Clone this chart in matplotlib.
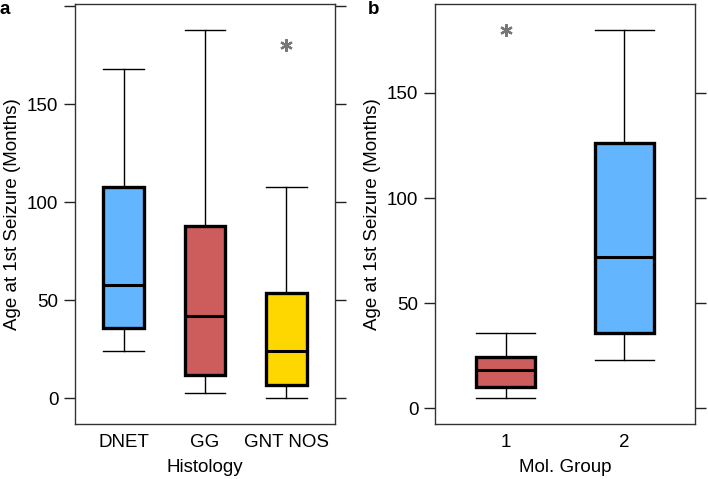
import matplotlib
matplotlib.use("Agg")
import matplotlib.pyplot as plt

plt.rcParams['font.family'] = ['Liberation Sans', 'DejaVu Sans']

# Panel a: age at first seizure by histology
hist_labels = ["DNET", "GG", "GNT NOS"]
hist_whislo = [24, 3, 0.5]
hist_q1 = [36, 12, 7]
hist_med = [58, 42, 24]
hist_q3 = [108, 88, 54]
hist_whishi = [168, 188, 108]
hist_fliers = [[], [], [180]]
hist_colors = ["#63b5fd", "#cd5c5c", "#fed700"]

# Panel b: age at first seizure by molecular group
mol_labels = ["1", "2"]
mol_whislo = [5, 23]
mol_q1 = [10.3, 36]
mol_med = [18.2, 72]
mol_q3 = [24.4, 126]
mol_whishi = [36, 180]
mol_fliers = [[180], []]
mol_colors = ["#cd5c5c", "#63b5fd"]

FS = 13.5


def make_stats(labels, lo, q1, med, q3, hi, fl):
    return [dict(label=l, whislo=a, q1=b, med=c, q3=d, whishi=e, fliers=f)
            for l, a, b, c, d, e, f in zip(labels, lo, q1, med, q3, hi, fl)]


def draw(ax, stats, colors, ylim, yticks, xlabel):
    bp = ax.bxp(stats, widths=0.5, patch_artist=True, showcaps=True,
                boxprops=dict(linewidth=2.4, edgecolor="black"),
                medianprops=dict(linewidth=2.2, color="black"),
                whiskerprops=dict(linewidth=1.0, color="black"),
                capprops=dict(linewidth=1.0, color="black"),
                capwidths=0.5,
                flierprops=dict(marker=(6, 2, 0), markersize=9,
                                markeredgecolor="#777777", markeredgewidth=1.6,
                                linestyle="none"))
    for patch, c in zip(bp["boxes"], colors):
        patch.set_facecolor(c)
    ax.set_xlim(0.4, len(stats) + 0.6)
    ax.set_ylim(*ylim)
    ax.set_yticks(yticks)
    ax.set_yticklabels([str(t) if t < 200 else "" for t in yticks])
    ax.tick_params(axis="y", direction="out", length=8, width=1.0,
                   color="#222222", labelsize=FS, right=True, pad=4)
    ax.tick_params(axis="x", length=0, labelsize=FS, pad=7)
    for s in ax.spines.values():
        s.set_linewidth(1.0)
        s.set_color("#333333")
    ax.set_xlabel(xlabel, fontsize=FS, labelpad=6)
    ax.set_ylabel("Age at 1st Seizure (Months)", fontsize=FS, labelpad=4)


fig = plt.figure(figsize=(7.08, 4.79), dpi=100)
ax_a = fig.add_axes([0.1059, 0.1148, 0.3673, 0.8768])
ax_b = fig.add_axes([0.6144, 0.1148, 0.3672, 0.8768])

draw(ax_a, make_stats(hist_labels, hist_whislo, hist_q1, hist_med, hist_q3,
                      hist_whishi, hist_fliers),
     hist_colors, (-13, 201), [0, 50, 100, 150, 200], "Histology")
draw(ax_b, make_stats(mol_labels, mol_whislo, mol_q1, mol_med, mol_q3,
                      mol_whishi, mol_fliers),
     mol_colors, (-7.4, 192.3), [0, 50, 100, 150], "Mol. Group")

fig.text(0.0, 0.997, "a", fontsize=FS, fontweight="bold", va="top", ha="left")
fig.text(0.519, 0.997, "b", fontsize=FS, fontweight="bold", va="top", ha="left")

fig.savefig("out.png", dpi=100)
